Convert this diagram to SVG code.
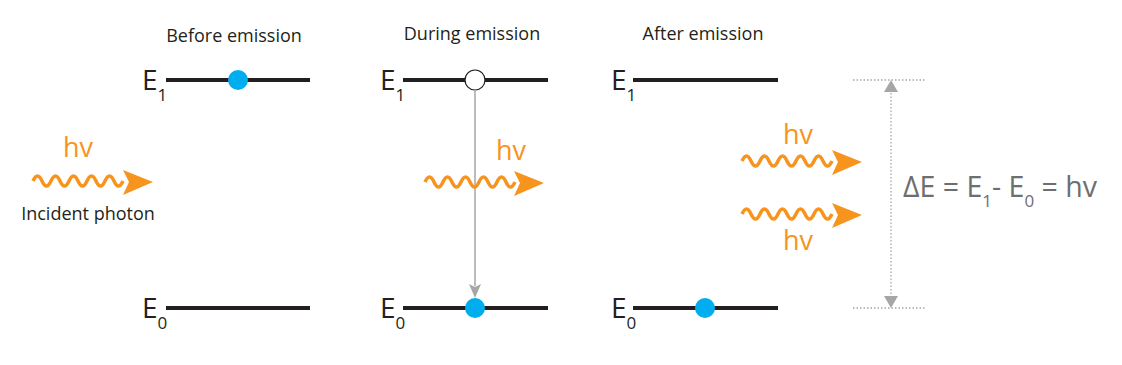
<svg xmlns="http://www.w3.org/2000/svg" width="1122" height="365" viewBox="0 0 1122 365">
<style>
.title{font-family:"Open Sans","Liberation Sans",sans-serif;font-size:18px;fill:#231f20;text-anchor:middle}
.lvl{stroke:#231f20;stroke-width:4;fill:none}
.elab{font-family:"Open Sans","Liberation Sans",sans-serif;font-size:28px;fill:#231f20}
.sub{font-size:17px}
.hv{font-family:"Open Sans","Liberation Sans",sans-serif;font-size:27px;fill:#f7941d}
.wave{stroke:#f7941d;stroke-width:3.5;fill:none}
.head{fill:#f7941d}
.e{fill:#00aeef}
.dot{stroke:#a0a8a8;stroke-width:1.3;stroke-dasharray:1.5,2;fill:none}
.gh{fill:#a6a6a6}
.eq{font-family:"Open Sans","Liberation Sans",sans-serif;font-size:28.5px;fill:#6d6e70}
</style>
<g id="titles">
<text class="title" x="234" y="42">Before emission</text>
<text class="title" x="472" y="40">During emission</text>
<text class="title" x="703" y="40">After emission</text>
</g>
<g id="before">
<line class="lvl" x1="166" y1="80" x2="310" y2="80"/>
<line class="lvl" x1="166" y1="308" x2="310" y2="308"/>
<text class="elab" x="142" y="90">E<tspan class="sub" dy="11">1</tspan></text>
<text class="elab" x="142" y="318">E<tspan class="sub" dy="11">0</tspan></text>
<circle class="e" cx="238" cy="80" r="10"/>
</g>
<g id="during">
<line class="lvl" x1="403" y1="80" x2="548" y2="80"/>
<line class="lvl" x1="403" y1="308" x2="548" y2="308"/>
<text class="elab" x="380" y="90">E<tspan class="sub" dy="11">1</tspan></text>
<text class="elab" x="380" y="318">E<tspan class="sub" dy="11">0</tspan></text>
<circle cx="475" cy="80" r="10" fill="#fff" stroke="#231f20" stroke-width="1.2"/>
<circle class="e" cx="475" cy="308" r="10"/>
</g>
<g id="after">
<line class="lvl" x1="633" y1="80" x2="778" y2="80"/>
<line class="lvl" x1="633" y1="308" x2="778" y2="308"/>
<text class="elab" x="611" y="90">E<tspan class="sub" dy="11">1</tspan></text>
<text class="elab" x="611" y="318">E<tspan class="sub" dy="11">0</tspan></text>
<circle class="e" cx="705" cy="308" r="10"/>
</g>
<g id="connectors">
<line x1="475" y1="90" x2="475" y2="286" stroke="#a6a6a6" stroke-width="1.5"/>
<path class="gh" d="M475,298 L469,284 L475,287 L481,284 Z"/>
<line class="dot" x1="853" y1="80" x2="926" y2="80"/>
<line class="dot" x1="853" y1="308" x2="926" y2="308"/>
<line class="dot" x1="891" y1="86" x2="891" y2="302"/>
<path class="gh" d="M891,80 L884,92 L898,92 Z"/>
<path class="gh" d="M891,308 L884,296 L898,296 Z"/>
</g>
<g id="incident">
<path class="wave" d="M33,181 q4.5,-10 9,0 t9,0 t9,0 t9,0 t9,0 t9,0 t9,0 t9,0 t9,0 t9,0"/>
<path class="head" d="M153,182 L123,170 L129,182 L123,195 Z"/>
<text class="hv" x="63" y="157">hv</text>
<text class="title" x="88" y="220">Incident photon</text>
</g>
<g id="photon-during">
<path class="wave" d="M425,182 q4.5,-10 9,0 t9,0 t9,0 t9,0 t9,0 t9,0 t9,0 t9,0 t9,0 t9,0"/>
<path class="head" d="M544,183 L514,171 L520,183 L514,196 Z"/>
<text class="hv" x="496" y="160">hv</text>
</g>
<g id="photons-after">
<path class="wave" d="M742,161 q4.5,-10 9,0 t9,0 t9,0 t9,0 t9,0 t9,0 t9,0 t9,0 t9,0 t9,0"/>
<path class="head" d="M862,162 L832,150 L838,162 L832,175 Z"/>
<text class="hv" x="783" y="144">hv</text>
<path class="wave" d="M742,214 q4.5,-10 9,0 t9,0 t9,0 t9,0 t9,0 t9,0 t9,0 t9,0 t9,0 t9,0"/>
<path class="head" d="M862,215 L832,203 L838,215 L832,228 Z"/>
<text class="hv" x="783" y="250">hv</text>
</g>
<g id="equation">
<text class="eq" x="903" y="197">ΔE = E<tspan class="sub" dy="10">1</tspan><tspan dy="-10">- E</tspan><tspan class="sub" dy="10">0</tspan><tspan dy="-10"> = hv</tspan></text>
</g>
</svg>
